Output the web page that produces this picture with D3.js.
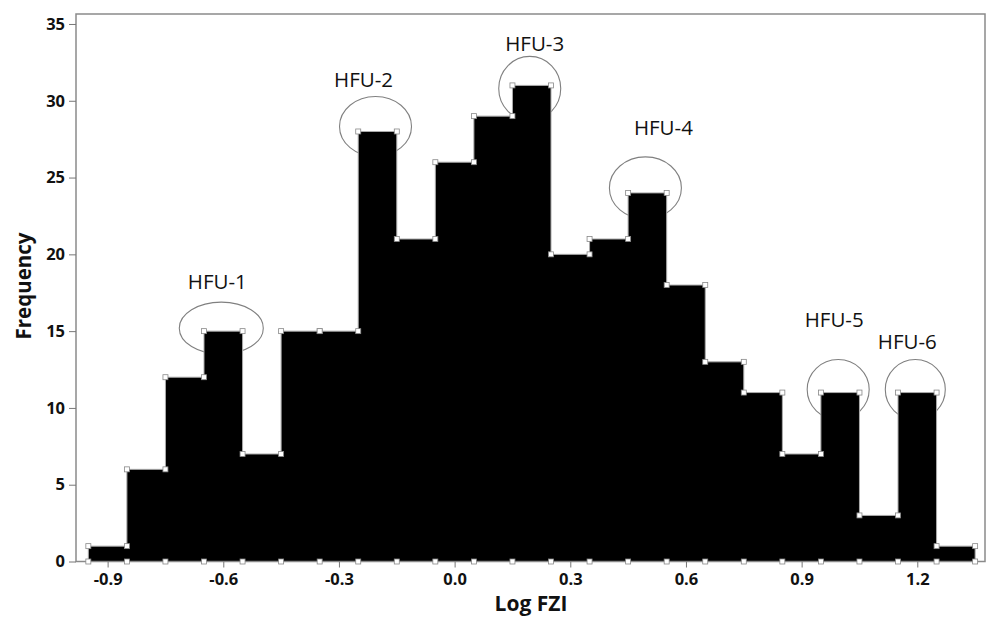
<!DOCTYPE html>
<html>
<head>
<meta charset="utf-8">
<script src="https://cdn.jsdelivr.net/npm/d3@7"></script>
<style>
  html, body { margin: 0; padding: 0; background: #fff; }
  svg { display: block; font-family: "Open Sans", "Noto Sans", sans-serif; }
</style>
</head>
<body>
<svg id="chart" width="987" height="617"></svg>
<script>
// bin edges (Log FZI) and counts per bin
var binEdges = [-0.95, -0.85, -0.75, -0.65, -0.55, -0.45, -0.35, -0.25, -0.15, -0.05, 0.05, 0.15,
                0.25, 0.35, 0.45, 0.55, 0.65, 0.75, 0.85, 0.95, 1.05, 1.15, 1.25, 1.35];
var counts = [1, 6, 12, 15, 7, 15, 15, 28, 21, 26, 29, 31, 20, 21, 24, 18, 13, 11, 7, 11, 3, 11, 1];

var xTicks = [-0.9, -0.6, -0.3, 0.0, 0.3, 0.6, 0.9, 1.2];
var yTicks = [0, 5, 10, 15, 20, 25, 30, 35];

// circled peaks: label, bin centre, count
var hfuLabels = ["HFU-1", "HFU-2", "HFU-3", "HFU-4", "HFU-5", "HFU-6"];
var hfuX = [-0.6, -0.2, 0.2, 0.5, 1.0, 1.2];
var hfuY = [15, 28, 31, 24, 11, 11];

// ellipse size / label placement (pixels)
var hfuShape = [
  {rx: 42, ry: 26, dy: -3, lx: -6, ly: -39},
  {rx: 36, ry: 30, dy: -5, lx: -14, ly: -39},
  {rx: 31, ry: 32, dy: 3,  lx: 3,  ly: -37},
  {rx: 36, ry: 31, dy: -5, lx: 16, ly: -53},
  {rx: 31, ry: 30, dy: -3, lx: -6, ly: -63},
  {rx: 30, ry: 30, dy: -3, lx: -10, ly: -41}
];

var svg = d3.select("#chart");
var plotLeft = 76, plotRight = 985, plotTop = 14, plotBottom = 561.5;

var x = d3.scaleLinear().domain([-0.982, 1.3756]).range([plotLeft, plotRight]);
var y = d3.scaleLinear().domain([0, 35.65]).range([plotBottom, plotTop]);

// ellipses go under the bars
var g_ell = svg.append("g");
hfuLabels.forEach(function(lab, i){
    var s = hfuShape[i];
    g_ell.append("ellipse")
        .attr("cx", x(hfuX[i]) - 2)
        .attr("cy", y(hfuY[i]) + s.dy)
        .attr("rx", s.rx)
        .attr("ry", s.ry)
        .style("fill", "none")
        .style("stroke", "#808080")
        .style("stroke-width", 1.1);
    svg.append("text")
        .attr("x", x(hfuX[i]) + s.lx)
        .attr("y", y(hfuY[i]) + s.dy + s.ly)
        .attr("text-anchor", "middle")
        .style("font-size", "20.5px")
        .style("fill", "#111")
        .text(lab);
});

// step outline points
var pts = [[binEdges[0], 0]];
counts.forEach(function(c, i){
    pts.push([binEdges[i], c]);
    pts.push([binEdges[i + 1], c]);
});
pts.push([binEdges[binEdges.length - 1], 0]);

var line = d3.line().x(function(d){ return x(d[0]); }).y(function(d){ return y(d[1]); });

svg.append("path")
    .attr("d", line(pts) + "Z")
    .style("fill", "#000")
    .style("stroke", "#aaa")
    .style("stroke-width", 1);

// frame
svg.append("rect")
    .attr("x", plotLeft).attr("y", plotTop)
    .attr("width", plotRight - plotLeft).attr("height", plotBottom - plotTop)
    .style("fill", "none")
    .style("stroke", "#8a8a8a")
    .style("stroke-width", 1.5);

// markers: top corners plus baseline at every edge
var markers = pts.slice(1, pts.length - 1).concat(binEdges.map(function(e){ return [e, 0]; }));
svg.append("g").selectAll("rect")
    .data(markers)
    .enter()
    .append("rect")
    .attr("x", function(d){ return x(d[0]) - 2.5; })
    .attr("y", function(d){ return y(d[1]) - 2.5; })
    .attr("width", 5)
    .attr("height", 5)
    .style("fill", "#fff")
    .style("stroke", "#888")
    .style("stroke-width", 0.8);

// axes
var xAxis = svg.append("g")
    .attr("transform", "translate(0," + plotBottom + ")")
    .call(d3.axisBottom(x).tickValues(xTicks).tickSize(6).tickSizeOuter(0)
          .tickFormat(function(d){ return d.toFixed(1); }));
var yAxis = svg.append("g")
    .attr("transform", "translate(" + plotLeft + ",0)")
    .call(d3.axisLeft(y).tickValues(yTicks).tickSize(7).tickSizeOuter(0));

[xAxis, yAxis].forEach(function(a){
    a.select(".domain").remove();
    a.selectAll(".tick line").style("stroke", "#777");
    a.selectAll(".tick text")
        .style("font-size", "16.5px")
        .style("font-weight", "bold")
        .style("fill", "#111")
        .style("font-family", "'Open Sans', 'Noto Sans', sans-serif");
});
xAxis.selectAll(".tick text").attr("dy", "0").attr("y", 23);
yAxis.selectAll(".tick text").attr("x", -11);

svg.append("text")
    .attr("x", 531)
    .attr("y", 611)
    .attr("text-anchor", "middle")
    .style("font-size", "21px")
    .style("font-weight", "bold")
    .style("fill", "#111")
    .text("Log FZI");

svg.append("text")
    .attr("transform", "rotate(-90)")
    .attr("x", -286)
    .attr("y", 31)
    .attr("text-anchor", "middle")
    .style("font-size", "20.5px")
    .style("font-weight", "bold")
    .style("fill", "#111")
    .text("Frequency");
</script>
</body>
</html>
